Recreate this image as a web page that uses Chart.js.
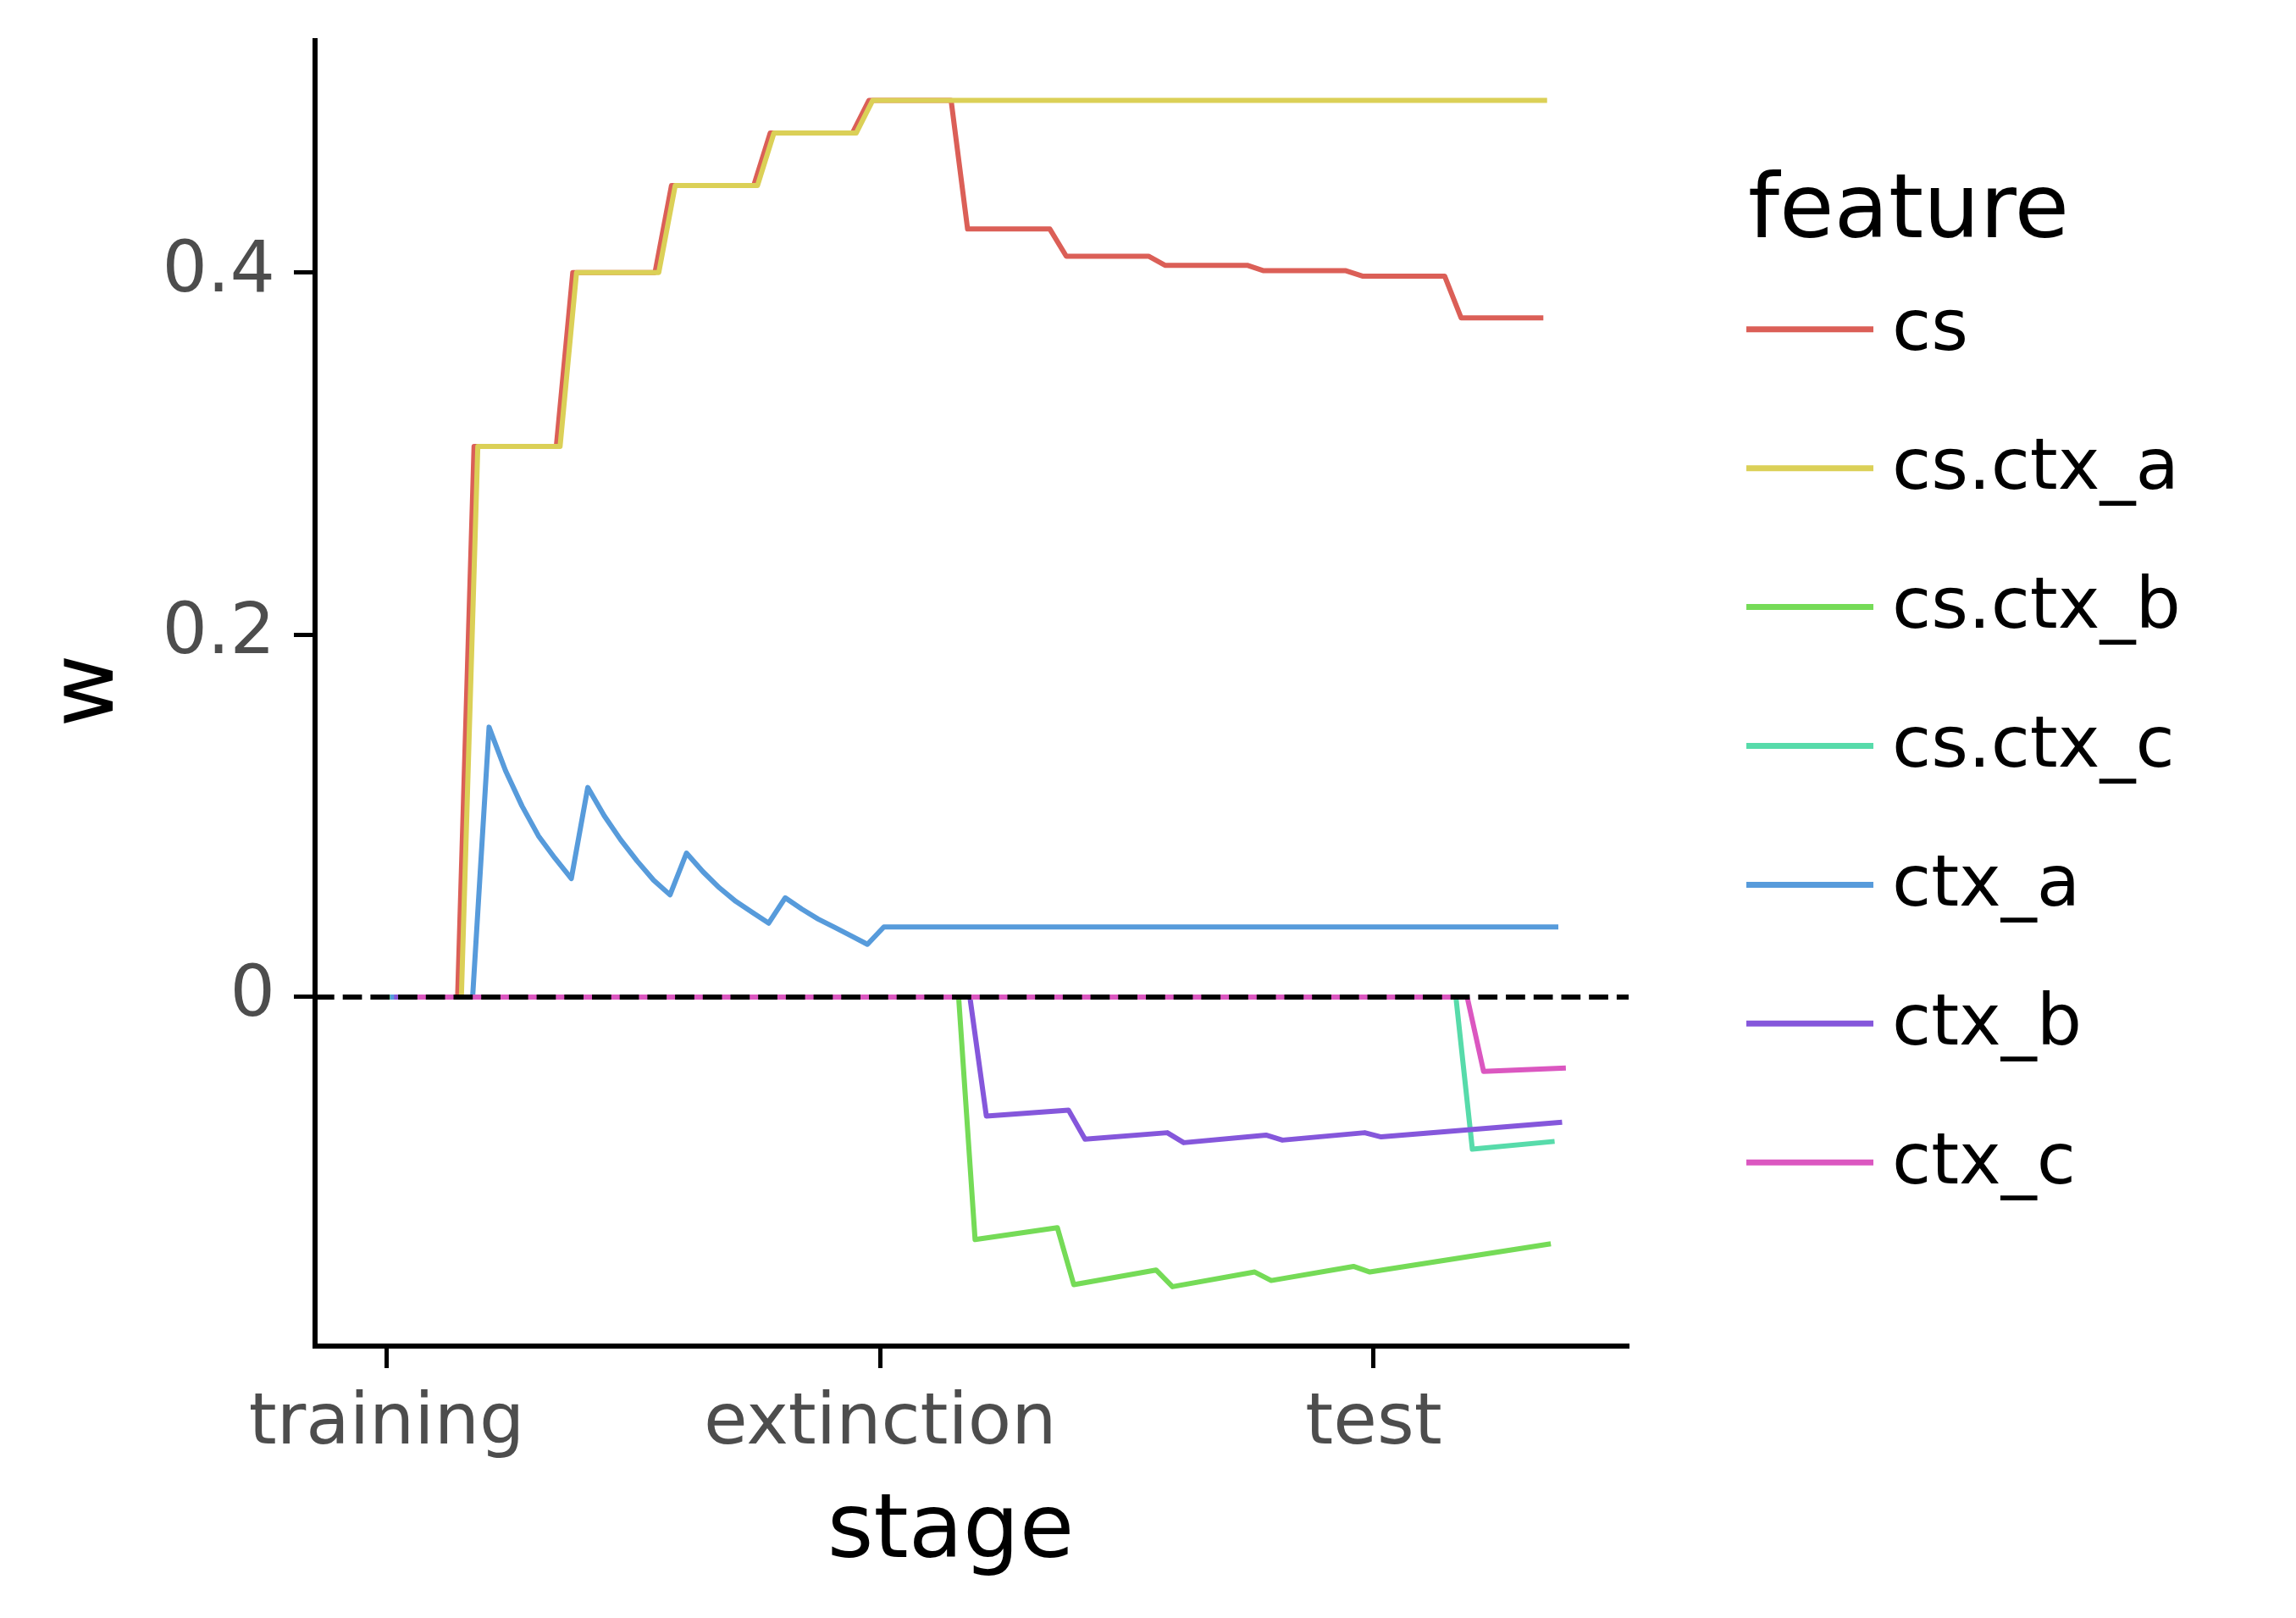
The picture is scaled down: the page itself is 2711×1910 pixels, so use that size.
<!DOCTYPE html>
<html>
<head>
<meta charset="utf-8">
<script src="https://cdn.jsdelivr.net/npm/chart.js@4.4.1/dist/chart.umd.min.js"></script>
<style>
html,body{margin:0;padding:0;background:#ffffff;}
#wrap{width:2711px;height:1910px;position:relative;}
canvas{display:block;}
</style>
</head>
<body>
<div id="wrap"><canvas id="c" width="2711" height="1910"></canvas></div>
<script>
// ---- categories / ticks ----
const stages = ['training', 'extinction', 'test'];
const stageStartStep = [0, 30, 60];          // step index at which each stage begins (x tick positions)
const wTicks = [0, 0.2, 0.4];
const wTickLabels = ['0', '0.2', '0.4'];
const features = ['cs', 'cs.ctx_a', 'cs.ctx_b', 'cs.ctx_c', 'ctx_a', 'ctx_b', 'ctx_c'];
const featureColors = ['#db5f57', '#dbd057', '#75db57', '#57dbaa', '#579bdb', '#8557db', '#db57c0'];

// ---- series: [step, w] vertices ----
const w_cs = [[0,0],[5,0],[6,0.304],[11,0.304],[12,0.400],[17,0.400],[18,0.448],[23,0.448],[24,0.477],[29,0.477],
  [30,0.495],[35,0.495],[36,0.424],[41,0.424],[42,0.409],[47,0.409],[48,0.404],[53,0.404],[54,0.401],[59,0.401],
  [60,0.398],[65,0.398],[66,0.375],[71,0.375]];
const w_cs_ctx_a = [[0,0],[5,0],[6,0.304],[11,0.304],[12,0.400],[17,0.400],[18,0.448],[23,0.448],[24,0.477],[29,0.477],
  [30,0.495],[71,0.495]];
const w_cs_ctx_b = [[0,0],[35,0],[36,-0.1339],[41,-0.1273],[42,-0.1588],[47,-0.1507],[48,-0.1599],[53,-0.1518],
  [54,-0.1565],[59,-0.1487],[60,-0.1518],[71,-0.1362]];
const w_cs_ctx_c = [[0,0],[65,0],[66,-0.0840],[71,-0.0797]];
const w_ctx_a = [[0,0],[5,0],[6,0.149],[7,0.125],[8,0.1055],[9,0.089],[10,0.0767],[11,0.0654],
  [12,0.1157],[13,0.1001],[14,0.0868],[15,0.0751],[16,0.0645],[17,0.0564],
  [18,0.0795],[19,0.0692],[20,0.0603],[21,0.0528],[22,0.0467],[23,0.0408],
  [24,0.0548],[25,0.0486],[26,0.0431],[27,0.0385],[28,0.0338],[29,0.0291],
  [30,0.0387],[71,0.0387]];
const w_ctx_b = [[0,0],[35,0],[36,-0.0657],[41,-0.0625],[42,-0.0785],[47,-0.0749],[48,-0.0804],[53,-0.0762],
  [54,-0.0790],[59,-0.0749],[60,-0.0772],[71,-0.0691]];
const w_ctx_c = [[0,0],[65,0],[66,-0.0411],[71,-0.0392]];

const seriesData = [w_cs, w_cs_ctx_a, w_cs_ctx_b, w_cs_ctx_c, w_ctx_a, w_ctx_b, w_ctx_c];
const dodgeStep = 0.228;   // position dodge between features (in steps)

const datasets = features.map((f, i) => ({
  label: f,
  data: seriesData[i].map(([s, w]) => ({x: s + (i - (features.length - 1) / 2) * dodgeStep, y: w})),
  borderColor: featureColors[i],
  backgroundColor: featureColors[i],
  borderWidth: 6,
  pointRadius: 0,
  pointHoverRadius: 0,
  tension: 0,
  fill: false,
  borderJoinStyle: 'round',
  order: features.length - 1 - i
}));

const FONT = '"DejaVu Sans", "Liberation Sans", sans-serif';

const decor = {
  id: 'decor',
  afterDatasetsDraw(chart) {
    const {ctx, chartArea: a, scales: {y}} = chart;
    const py = y.getPixelForValue(0);
    ctx.save();
    ctx.strokeStyle = '#000000';
    ctx.lineWidth = 6;
    ctx.lineCap = 'butt';
    ctx.setLineDash([22.7, 10]);
    ctx.beginPath();
    ctx.moveTo(a.left, py);
    ctx.lineTo(a.right, py);
    ctx.stroke();
    ctx.restore();
  },
  afterDraw(chart) {
    const {ctx, chartArea: a} = chart;
    ctx.save();
    ctx.fillStyle = '#000000';
    ctx.font = '105px ' + FONT;
    ctx.textBaseline = 'alphabetic';
    ctx.textAlign = 'center';
    // x title
    ctx.fillText('stage', (a.left + a.right) / 2 - 25, 1838);
    // y title
    ctx.save();
    ctx.translate(133, (a.top + a.bottom) / 2 - 3);
    ctx.rotate(-Math.PI / 2);
    ctx.fillText('w', 0, 0);
    ctx.restore();
    // legend
    const lx = 2062, ly0 = 388.8, lstep = 163.9;
    ctx.textAlign = 'left';
    ctx.fillText('feature', 2064, 280);
    ctx.font = '84px ' + FONT;
    features.forEach((f, i) => {
      const yy = ly0 + i * lstep;
      ctx.strokeStyle = featureColors[i];
      ctx.lineWidth = 7;
      ctx.lineCap = 'butt';
      ctx.beginPath();
      ctx.moveTo(lx, yy);
      ctx.lineTo(lx + 150, yy);
      ctx.stroke();
      ctx.fillStyle = '#000000';
      ctx.fillText(f, 2234, yy + 24.5);
    });
    ctx.restore();
  }
};

new Chart(document.getElementById('c'), {
  type: 'line',
  data: {datasets},
  options: {
    responsive: false,
    devicePixelRatio: 1,
    animation: false,
    events: [],
    layout: {padding: {left: 0, top: 48, right: 788, bottom: 0}},
    plugins: {legend: {display: false}, tooltip: {enabled: false}, title: {display: false}},
    scales: {
      x: {
        type: 'linear',
        min: -4.35,
        max: 75.5,
        afterBuildTicks: s => { s.ticks = stageStartStep.map(v => ({value: v})); },
        afterFit: s => { s.height = 321; s.paddingLeft = 0; s.paddingRight = 0; s.paddingTop = 0; s.paddingBottom = 0; },
        ticks: {
          callback: v => stages[stageStartStep.indexOf(v)],
          font: {family: FONT, size: 84},
          color: '#4d4d4d',
          padding: 17,
          maxRotation: 0,
          autoSkip: false
        },
        grid: {display: true, drawOnChartArea: false, drawTicks: true, tickLength: 26, tickWidth: 5, tickColor: '#000000'},
        border: {display: true, color: '#000000', width: 6}
      },
      y: {
        type: 'linear',
        min: -0.1927,
        max: 0.528,
        afterBuildTicks: s => { s.ticks = wTicks.map(v => ({value: v})); },
        afterFit: s => { s.width = 372; s.paddingLeft = 0; s.paddingRight = 0; s.paddingTop = 0; s.paddingBottom = 0; },
        ticks: {
          callback: v => wTickLabels[wTicks.indexOf(v)],
          font: {family: FONT, size: 84},
          color: '#4d4d4d',
          padding: 22,
          autoSkip: false
        },
        grid: {display: true, drawOnChartArea: false, drawTicks: true, tickLength: 25, tickWidth: 5, tickColor: '#000000'},
        border: {display: true, color: '#000000', width: 6}
      }
    }
  },
  plugins: [decor]
});
</script>
</body>
</html>
